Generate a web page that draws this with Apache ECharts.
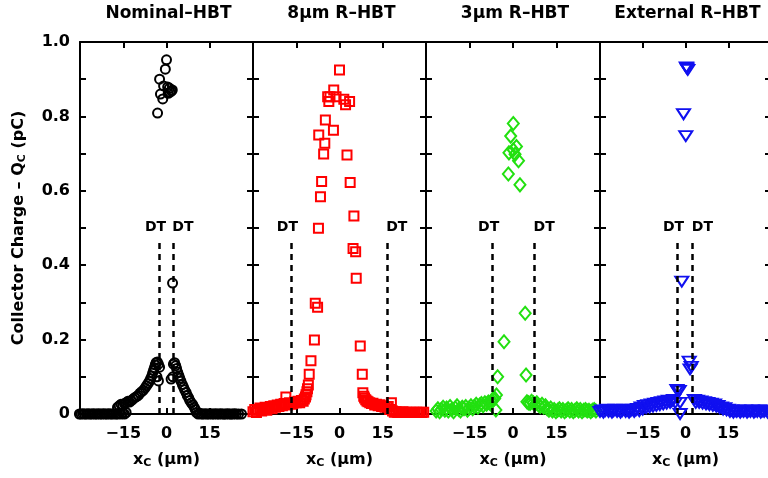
<!DOCTYPE html>
<html>
<head>
<meta charset="utf-8">
<script src="https://cdn.jsdelivr.net/npm/echarts@6/dist/echarts.min.js"></script>
<style>
  html, body { margin: 0; padding: 0; background: #fff; overflow: hidden; }
  #chart { width: 790px; height: 478px; }
</style>
</head>
<body>
<div id="chart"></div>
<script>
// Panel titles
const panelTitles = ['Nominal\u2013HBT', '8\u00b5m R\u2013HBT', '3\u00b5m R\u2013HBT', 'External R\u2013HBT'];

// Axis ticks
const xTicks = [-15, 0, 15];
const yMax = 1.0;

// Deep-trench (DT) edge positions, µm
const dtNominal = [-2.4, 2.2];
const dtEight = [-16.7, 16.4];
const dtThree = [-7.0, 7.3];
const dtExternal = [-2.8, 2.4];
const dtTop = 0.473;

// Collector charge (pC) versus strike position x_C (µm)
const nominalPts = [
  [-30.2,0],[-29.6,0],[-29.0,0.001],[-28.4,0],[-27.8,0],[-27.2,0.001],[-26.6,0],[-26.0,0],[-25.4,0.001],[-24.8,0],
  [-24.2,0],[-23.6,0.001],[-23.0,0],[-22.4,0],[-21.8,0.001],[-21.2,0],[-20.6,0],[-20.0,0.001],[-19.4,0],[-18.8,0],
  [-18.2,0.001],[-17.6,0],[-17.0,0],[-16.4,0.002],[-15.8,0],[-15.2,0.003],[-14.6,0],[-14.0,0.004],
  [-17.0,0.018],[-16.4,0.022],[-15.8,0.026],[-15.2,0.024],[-14.6,0.028],[-14.0,0.030],[-13.4,0.034],[-12.8,0.032],
  [-12.2,0.036],[-11.6,0.040],[-11.0,0.044],[-10.4,0.047],[-9.8,0.050],[-9.2,0.056],[-8.6,0.060],[-8.0,0.064],
  [-7.4,0.070],[-6.9,0.076],[-6.4,0.082],[-5.9,0.088],[-5.5,0.095],[-5.1,0.102],[-4.8,0.110],[-4.5,0.117],
  [-4.2,0.124],[-3.9,0.132],[-3.6,0.138],[-3.2,0.140],[-2.8,0.134],[-2.4,0.126],[-2.8,0.089],[-3.3,0.100],
  [2.1,0.352],
  [2.4,0.134],[2.8,0.138],[3.2,0.130],[3.5,0.122],[3.9,0.112],[4.3,0.103],[4.6,0.096],[5.0,0.088],[5.5,0.079],
  [5.9,0.072],[6.3,0.065],[6.8,0.058],[7.2,0.050],[7.7,0.043],[8.1,0.036],[8.6,0.030],[9.1,0.025],[9.6,0.018],
  [10.0,0.012],[2.2,0.100],[1.6,0.094],
  [10.4,0.004],[11.0,0],[11.6,0.002],[12.2,0],[12.8,0],[13.4,0.001],[14.0,0],[14.6,0],[15.2,0.001],[15.8,0],
  [16.4,0],[17.0,0.001],[17.6,0],[18.2,0],[18.8,0.001],[19.4,0],[20.0,0],[20.6,0],[21.2,0.001],[21.8,0],
  [22.4,0],[23.0,0],[23.6,0.001],[24.2,0],[25.0,0],[26.0,0],
  [0.0,0.952],[-0.4,0.927],[-2.4,0.900],[-1.0,0.882],[1.0,0.876],[1.7,0.868],[-2.1,0.860],[-1.3,0.847],
  [-3.1,0.809],[0.4,0.879],[2.0,0.871],[1.2,0.865],[0.6,0.862]
];

const eightPts = [
  [-30.0,0.006],[-29.4,0.012],[-28.8,0.004],[-28.2,0.010],[-27.6,0.016],[-27.0,0.008],[-26.4,0.014],[-25.8,0.018],
  [-25.2,0.010],[-24.6,0.016],[-24.0,0.020],[-23.4,0.014],[-22.8,0.022],[-22.2,0.018],[-21.6,0.024],[-21.0,0.020],
  [-20.4,0.026],[-19.8,0.022],[-19.2,0.028],[-18.6,0.046],[-18.0,0.024],[-17.4,0.030],[-16.8,0.026],[-16.2,0.028],
  [-15.6,0.032],[-15.0,0.030],[-14.4,0.034],[-13.8,0.030],[-13.2,0.036],[-12.6,0.034],[-12.2,0.040],[-11.8,0.046],
  [-11.6,0.052],[-11.3,0.060],[-11.1,0.068],[-10.8,0.078],[-10.5,0.107],[-9.9,0.143],[-8.7,0.199],[-8.4,0.298],
  [-7.6,0.287],[-7.3,0.499],[-6.6,0.584],[-6.2,0.625],[-5.5,0.699],[-5.1,0.728],[-7.2,0.750],[-2.1,0.763],
  [-4.9,0.790],[-3.7,0.840],[-4.1,0.853],[-3.3,0.853],[-1.2,0.853],[-2.0,0.871],[0.0,0.925],[1.5,0.846],
  [2.1,0.831],[3.5,0.840],[2.6,0.696],[3.7,0.622],[5.0,0.532],[4.7,0.445],[5.6,0.436],[5.8,0.365],
  [7.2,0.183],[7.9,0.107],
  [8.1,0.057],[8.4,0.048],[8.7,0.043],[9.1,0.038],[9.5,0.035],[9.9,0.033],[10.5,0.030],[11.1,0.028],
  [11.6,0.029],[12.2,0.024],[12.8,0.026],[13.4,0.022],[14.0,0.025],[14.6,0.020],[15.2,0.022],[15.8,0.018],
  [16.4,0.020],[16.9,0.020],[18.0,0.030],[17.4,0.012],[18.4,0.008],[19.0,0.005],[19.6,0.006],[20.2,0.004],
  [20.8,0.005],[21.4,0.004],[22.0,0.006],[22.6,0.004],[23.2,0.005],[23.8,0.004],[24.4,0.005],[25.0,0.004],
  [25.6,0.005],[26.2,0.004],[26.8,0.005],[27.4,0.004],[28.0,0.005],[28.6,0.004],[29.2,0.005]
];

const threePts = [
  [-26.5,0.008],[-25.9,0.014],[-25.3,0.006],[-24.7,0.012],[-24.1,0.018],[-23.5,0.010],[-22.9,0.016],[-22.3,0.008],
  [-21.7,0.020],[-21.1,0.012],[-20.5,0.006],[-19.9,0.016],[-19.3,0.022],[-18.7,0.012],[-18.1,0.008],[-17.5,0.018],
  [-16.9,0.014],[-16.3,0.020],[-15.7,0.010],[-15.1,0.016],[-14.5,0.022],[-13.9,0.014],[-13.3,0.020],[-12.7,0.026],
  [-12.1,0.018],[-11.5,0.024],[-10.9,0.028],[-10.3,0.022],[-9.7,0.030],[-9.1,0.026],[-8.5,0.032],[-7.9,0.028],
  [-7.3,0.036],[-6.8,0.040],[-6.3,0.042],[-5.7,0.051],[-5.9,0.011],[-5.3,0.100],[-3.1,0.194],
  [0.1,0.781],[-0.8,0.747],[1.2,0.719],[-1.4,0.702],[0.7,0.698],[1.9,0.681],[-1.6,0.645],[2.4,0.616],[0.1,0.710],
  [4.2,0.271],[4.5,0.105],[4.8,0.033],[5.3,0.030],[5.9,0.028],[6.4,0.034],[7.0,0.030],[7.6,0.026],
  [8.2,0.030],[8.8,0.024],[9.4,0.020],[10.0,0.026],[10.6,0.018],[11.2,0.022],[11.8,0.014],[12.4,0.010],
  [13.0,0.016],[13.6,0.008],[14.2,0.012],[14.8,0.006],[15.4,0.010],[16.0,0.014],[16.6,0.008],[17.2,0.012],
  [17.8,0.006],[18.4,0.010],[19.0,0.014],[19.6,0.008],[20.2,0.012],[20.8,0.006],[21.4,0.010],[22.0,0.014],
  [22.6,0.008],[23.2,0.012],[23.8,0.006],[24.4,0.010],[25.0,0.012],[25.6,0.008],[26.2,0.010],[26.8,0.006],
  [27.4,0.010],[28.0,0.012],[28.6,0.008]
];

const externalPts = [
  [-30.0,0.006],[-29.4,0.010],[-28.8,0.004],[-28.2,0.008],[-27.6,0.012],[-27.0,0.006],[-26.4,0.010],[-25.8,0.004],
  [-25.2,0.008],[-24.6,0.012],[-24.0,0.006],[-23.4,0.010],[-22.8,0.004],[-22.2,0.008],[-21.6,0.012],[-21.0,0.006],
  [-20.4,0.010],[-19.8,0.004],[-19.2,0.008],[-18.6,0.012],[-18.0,0.006],[-17.4,0.010],[-16.8,0.014],[-16.2,0.008],
  [-15.6,0.018],[-15.0,0.012],[-14.4,0.022],[-13.8,0.016],[-13.2,0.024],[-12.6,0.018],[-12.0,0.026],[-11.4,0.020],
  [-10.8,0.028],[-10.2,0.022],[-9.6,0.030],[-9.0,0.024],[-8.4,0.032],[-7.8,0.026],[-7.2,0.034],[-6.6,0.028],
  [-6.0,0.036],[-5.4,0.030],[-4.8,0.034],[-4.2,0.038],[-3.6,0.030],[-3.0,0.065],[-2.6,0.060],[-2.2,0.062],
  [-1.9,0.030],[-1.9,0.000],[-1.3,0.356],[-0.7,0.806],[0.1,0.747],[0.5,0.929],[0.8,0.925],[0.3,0.932],
  [1.3,0.141],[2.0,0.127],[1.6,0.120],[3.1,0.038],[3.6,0.030],[4.2,0.036],[4.8,0.030],[5.4,0.034],
  [6.0,0.028],[6.6,0.032],[7.2,0.026],[7.8,0.030],[8.4,0.024],[9.0,0.028],[9.6,0.022],[10.2,0.026],
  [10.8,0.020],[11.4,0.022],[12.0,0.016],[12.6,0.018],[13.2,0.012],[13.8,0.016],[14.4,0.010],[15.0,0.012],
  [15.6,0.006],[16.2,0.010],[16.8,0.004],[17.4,0.008],[18.0,0.006],[18.6,0.010],[19.2,0.004],[19.8,0.008],
  [20.4,0.006],[21.0,0.010],[21.6,0.004],[22.2,0.008],[22.8,0.006],[23.4,0.010],[24.0,0.004],[24.6,0.008],
  [25.2,0.006],[25.8,0.010],[26.4,0.004],[27.0,0.008],[27.6,0.006],[28.2,0.010],[28.8,0.004],[29.4,0.008],
  [30.0,0.006]
];

const FONT = '"DejaVu Sans", sans-serif';
const BLACK = '#000';

// Layout and marker style of the four side-by-side panels
const gridLeft = [80, 253, 426, 600];
const gridWidth = [173, 173, 174, 171];
const gridTop = 42, gridHeight = 372;

const panels = [
  { pts: nominalPts, dt: dtNominal, symbol: 'circle', size: 9, rotate: 0, color: '#000000' },
  { pts: eightPts, dt: dtEight, symbol: 'rect', size: 9, rotate: 0, color: '#ff0000' },
  { pts: threePts, dt: dtThree, symbol: 'diamond', size: [11, 13], rotate: 0, color: '#22e010' },
  { pts: externalPts, dt: dtExternal, symbol: 'triangle', size: [13, 10], rotate: 180, color: '#1010f0' }
];

// DT labels sit slightly outside their lines
const dtLabelShift = [-4, 10];

const richName = {
  a: { fontSize: 16, fontWeight: 'bold', fontFamily: FONT, color: BLACK },
  s: { fontSize: 11, fontWeight: 'bold', fontFamily: FONT, color: BLACK, padding: [7, 0, 0, 0] }
};

const tickStyle = { show: true, inside: true, length: 6, lineStyle: { color: BLACK, width: 2 } };
const lineStyle = { show: true, onZero: false, lineStyle: { color: BLACK, width: 2 } };

function xAxisFor(i, pos) {
  const bottom = pos === 'bottom';
  return {
    type: 'value', gridIndex: i, position: pos,
    min: -30, max: 30, interval: 15,
    axisLine: lineStyle, axisTick: tickStyle, splitLine: { show: false },
    axisLabel: {
      show: bottom, margin: 12, fontSize: 16, fontWeight: 'bold', color: BLACK, fontFamily: FONT,
      formatter: v => xTicks.indexOf(v) >= 0 ? String(v).replace('-', '\u2212') : ''
    },
    name: bottom ? '{a|x}{s|C}{a| (\u00b5m)}' : '',
    nameLocation: 'middle', nameGap: 37,
    nameTextStyle: { rich: richName }
  };
}

function yAxisFor(i, pos) {
  const labelled = i === 0 && pos === 'left';
  return {
    type: 'value', gridIndex: i, position: pos,
    min: 0, max: yMax, interval: 0.1,
    axisLine: lineStyle, axisTick: tickStyle, splitLine: { show: false },
    axisLabel: {
      show: labelled, margin: 10, fontSize: 16, fontWeight: 'bold', color: BLACK, fontFamily: FONT,
      formatter: v => { const k = Math.round(v * 10); if (k % 2) return ''; return k === 0 ? '0' : (k / 10).toFixed(1); }
    },
    name: labelled ? '{a|Collector Charge \u2013 Q}{s|C}{a| (pC)}' : '',
    nameLocation: 'middle', nameGap: 52, nameRotate: 90,
    nameTextStyle: { rich: richName }
  };
}

const grids = [], xAxes = [], yAxes = [], series = [], graphics = [];
panels.forEach((p, i) => {
  grids.push({ left: gridLeft[i], top: gridTop, width: gridWidth[i], height: gridHeight, containLabel: false });
  xAxes.push(xAxisFor(i, 'bottom'), xAxisFor(i, 'top'));
  yAxes.push(yAxisFor(i, 'left'), yAxisFor(i, 'right'));
  series.push({
    type: 'scatter', xAxisIndex: 2 * i, yAxisIndex: 2 * i,
    data: p.pts, symbol: p.symbol, symbolSize: p.size, symbolRotate: p.rotate,
    clip: false, silent: true,
    itemStyle: { color: 'rgba(0,0,0,0)', borderColor: p.color, borderWidth: 2, opacity: 1 },
    markLine: {
      silent: true, symbol: 'none', animation: false,
      lineStyle: { color: BLACK, type: [6, 5], width: 2.5 },
      label: { show: true, position: 'end', formatter: 'DT', distance: 4,
               color: BLACK, fontSize: 14, fontWeight: 'bold', fontFamily: FONT },
      data: p.dt.map((x, k) => [
        { coord: [x, 0], label: { offset: [dtLabelShift[k], 0] } },
        { coord: [x, dtTop] }
      ])
    }
  });
  graphics.push({
    type: 'text', x: gridLeft[i] + gridWidth[i] / 2 + 2, y: 14,
    style: { text: panelTitles[i], textAlign: 'center', textVerticalAlign: 'middle',
             font: 'bold 17px ' + FONT, fill: BLACK }
  });
});

const chart = echarts.init(document.getElementById('chart'), null, { renderer: 'canvas' });
chart.setOption({
  animation: false,
  backgroundColor: '#fff',
  textStyle: { fontFamily: FONT },
  grid: grids,
  xAxis: xAxes,
  yAxis: yAxes,
  series: series,
  graphic: graphics
});
</script>
</body>
</html>
